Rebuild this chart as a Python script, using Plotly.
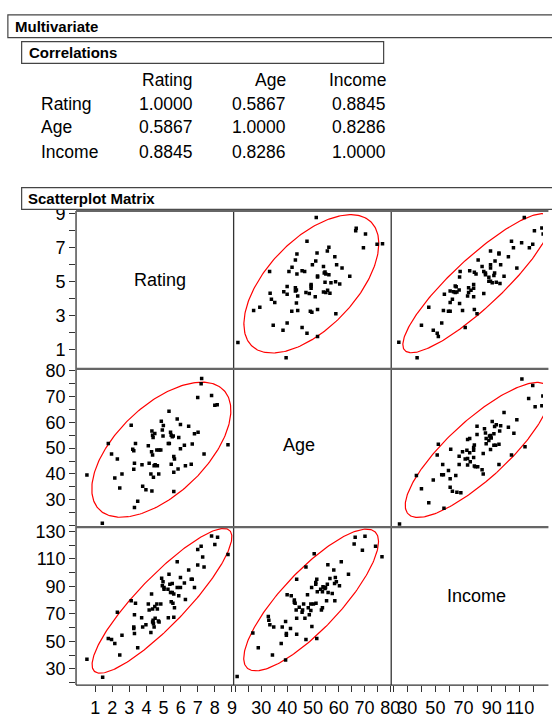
import numpy as np
import plotly.graph_objects as go

# ---- data: pairwise observations ----
# Rating vs Age
ra_rating = [0.52, 1.42, 1.77, 1.96, 2.30, 2.15, 2.44, 2.57, 3.11, 3.20, 3.26, 3.36, 3.30, 3.26,
             3.30, 3.49, 3.74, 3.78, 3.97, 4.11, 4.16, 4.26, 4.32, 4.36, 4.39, 4.49, 4.45, 4.51,
             4.30, 4.36, 4.41, 4.32, 4.61, 4.64, 4.74, 4.84, 4.72, 4.87, 4.99, 4.93, 4.97, 5.28,
             5.32, 5.34, 5.41, 5.45, 5.51, 5.57, 5.45, 5.60, 5.64, 5.60, 5.60, 5.80, 5.89, 5.85,
             5.99, 5.99, 6.22, 6.28, 6.47, 6.62, 6.68, 6.81, 7.00, 7.02, 7.23, 7.20, 7.37, 7.81,
             8.00, 8.14, 8.77]
ra_age = [39.6, 20.9, 51.8, 47.7, 45.8, 38.4, 34.6, 40.0, 58.9, 49.6, 49.0, 51.8, 44.1, 41.8,
          27.0, 29.4, 43.6, 35.2, 33.9, 50.9, 44.1, 40.0, 56.6, 55.0, 54.1, 55.7, 43.2, 43.6,
          48.6, 47.3, 38.7, 33.4, 49.3, 43.2, 49.3, 49.3, 40.0, 60.4, 58.8, 57.0, 54.7, 51.8,
          64.3, 51.8, 56.2, 55.0, 54.4, 54.7, 43.8, 46.8, 45.8, 40.7, 33.2, 61.3, 54.1, 41.9,
          59.2, 49.8, 51.1, 43.2, 58.5, 43.8, 51.6, 55.6, 69.6, 56.2, 77.0, 74.9, 47.7, 70.4,
          66.6, 66.8, 51.3]

# Rating vs Income
ri_rating = [0.52, 1.44, 1.77, 1.96, 2.15, 2.30, 2.44, 2.57, 3.11, 3.26, 3.26, 3.30, 3.30, 3.36,
             3.49, 3.72, 3.78, 3.97, 4.11, 4.16, 4.26, 4.30, 4.36, 4.36, 4.39, 4.41, 4.45, 4.49,
             4.51, 4.61, 4.64, 4.70, 4.74, 4.84, 4.89, 4.93, 4.97, 5.03, 5.03, 5.26, 5.28, 5.32,
             5.37, 5.41, 5.45, 5.51, 5.51, 5.55, 5.60, 5.60, 5.64, 5.80, 5.80, 5.89, 5.99, 5.99,
             6.22, 6.28, 6.47, 6.62, 6.68, 6.81, 7.00, 7.00, 7.20, 7.29, 7.37, 7.81, 8.00, 8.16,
             8.77]
ri_income = [37.0, 24.0, 52.1, 51.3, 48.5, 71.2, 40.1, 54.5, 79.6, 60.5, 59.3, 69.3, 55.7, 77.7,
             45.3, 67.2, 60.5, 62.1, 77.2, 72.9, 56.4, 84.4, 73.6, 64.1, 65.3, 62.9, 60.5, 75.3,
             66.9, 77.2, 73.6, 64.8, 64.1, 77.2, 95.9, 90.4, 93.3, 89.2, 88.0, 88.0, 67.2, 98.8,
             91.6, 85.6, 78.9, 92.1, 85.6, 77.7, 84.4, 67.6, 74.4, 107.9, 89.2, 83.2, 96.4, 89.2,
             92.4, 80.4, 101.9, 95.2, 95.2, 89.2, 116.8, 105.5, 119.2, 111.3, 104.1, 126.6, 120.4,
             125.7, 113.2]

# Age vs Income
ai_age = [20.6, 26.7, 28.8, 34.3, 32.7, 32.9, 33.3, 34.8, 38.1, 37.7, 39.4, 39.7, 39.7, 39.4,
          40.0, 41.6, 41.3, 42.8, 42.8, 43.1, 43.5, 43.7, 43.7, 43.7, 44.7, 45.8, 46.0, 46.4,
          46.9, 47.3, 47.3, 47.9, 48.2, 48.6, 49.2, 49.2, 49.5, 49.6, 50.2, 50.5, 51.1, 51.1,
          51.2, 51.5, 51.5, 51.7, 53.0, 53.3, 53.7, 53.7, 53.9, 54.3, 54.7, 54.9, 55.3, 55.6,
          55.8, 55.9, 56.6, 57.5, 58.1, 58.4, 58.7, 59.1, 58.5, 60.3, 61.0, 63.8, 66.0, 66.4,
          69.2, 70.2, 74.3, 76.8]
ai_income = [24.5, 56.1, 45.3, 40.1, 68.1, 65.3, 62.1, 60.5, 60.5, 48.5, 64.5, 54.5, 55.7, 36.5,
             84.0, 83.2, 59.3, 80.1, 78.4, 77.7, 72.9, 66.9, 55.2, 95.2, 74.8, 71.2, 72.9, 77.2,
             66.9, 104.1, 51.3, 84.0, 74.4, 69.3, 77.2, 72.4, 89.2, 60.9, 77.2, 113.7, 92.8, 91.6,
             77.7, 95.2, 52.1, 86.1, 88.0, 72.9, 74.4, 86.1, 89.7, 89.2, 88.5, 89.2, 79.6, 91.6,
             105.8, 85.6, 95.7, 84.9, 101.9, 92.1, 96.4, 93.3, 79.6, 90.4, 107.9, 98.8, 120.9,
             125.7, 116.3, 126.4, 119.2, 111.5]

variables = ["Rating", "Age", "Income"]
corr = [[1.0000, 0.5867, 0.8845],
        [0.5867, 1.0000, 0.8286],
        [0.8845, 0.8286, 1.0000]]

# ---- tick definitions ----
rating_ticks = [1, 2, 3, 4, 5, 6, 7, 8, 9]
rating_xlabels = ["1", "2", "3", "4", "5", "6", "7", "8", "9"]
rating_ylabels = ["1", "", "3", "", "5", "", "7", "", "9"]
age_ticks = [20, 25, 30, 35, 40, 45, 50, 55, 60, 65, 70, 75, 80]
age_labels = ["", "", "30", "", "40", "", "50", "", "60", "", "70", "", "80"]
income_xticks = [20, 30, 40, 50, 60, 70, 80, 90, 100, 110, 120]
income_xlabels = ["", "30", "", "50", "", "70", "", "90", "", "110", ""]
income_yticks = [20, 30, 40, 50, 60, 70, 80, 90, 100, 110, 120, 130]
income_ylabels = ["", "30", "", "50", "", "70", "", "90", "", "110", "", "130"]

W, H = 552, 718
FONT = "Liberation Sans, Arial, sans-serif"


def fx(p):
    return p / W


def fy(p):
    return 1 - p / H


def density_ellipse(xs, ys, level=0.95, n=240):
    x = np.asarray(xs, float)
    y = np.asarray(ys, float)
    vals, vecs = np.linalg.eigh(np.cov(x, y))
    r = np.sqrt(-2 * np.log(1 - level))
    t = np.linspace(0, 2 * np.pi, n)
    circ = np.vstack([np.cos(t), np.sin(t)])
    pts = vecs @ (np.sqrt(vals)[:, None] * circ) * r
    return x.mean() + pts[0], y.mean() + pts[1]


cols = [77.3, 237.5, 397.7, 552.0]
rows = [205.5, 365.5, 525.7, 685.7]

fig = go.Figure()

panels = [
    ("x2", "y", ra_age, ra_rating),
    ("x3", "y", ri_income, ri_rating),
    ("x", "y2", ra_rating, ra_age),
    ("x3", "y2", ai_income, ai_age),
    ("x", "y3", ri_rating, ri_income),
    ("x2", "y3", ai_age, ai_income),
]
for xa, ya, xs, ys in panels:
    ex, ey = density_ellipse(xs, ys)
    fig.add_trace(go.Scatter(x=ex, y=ey, xaxis=xa, yaxis=ya, mode="lines",
                             line=dict(color="#ff0000", width=1.2), hoverinfo="skip"))
    fig.add_trace(go.Scatter(x=xs, y=ys, xaxis=xa, yaxis=ya, mode="markers",
                             marker=dict(symbol="square", size=3.5, color="black",
                                         line=dict(width=0))))

tickfont = dict(family=FONT, size=18, color="black")
axis_common = dict(showgrid=False, zeroline=False, showline=False, ticks="outside",
                   ticklen=6, tickwidth=1, tickcolor="#333", tickfont=tickfont,
                   tickmode="array", fixedrange=True)

fig.update_layout(
    width=W, height=H, margin=dict(l=0, r=0, t=0, b=0),
    paper_bgcolor="white", plot_bgcolor="white", showlegend=False,
    xaxis=dict(domain=[fx(cols[0]), fx(cols[1])], range=[-0.117, 9.10], anchor="y3",
               tickvals=rating_ticks, ticktext=rating_xlabels, **axis_common),
    xaxis2=dict(domain=[fx(cols[1]), fx(cols[2])], range=[19.24, 80.38], anchor="y3",
                tickvals=age_ticks, ticktext=age_labels, **axis_common),
    xaxis3=dict(domain=[fx(cols[2]), fx(cols[3])], range=[18.6, 126.5], anchor="y3",
                tickvals=income_xticks, ticktext=income_xlabels, **axis_common),
    yaxis=dict(domain=[fy(rows[1]), fy(rows[0])], range=[-0.13, 9.16], anchor="x",
               tickvals=rating_ticks, ticktext=rating_ylabels, **axis_common),
    yaxis2=dict(domain=[fy(rows[2]), fy(rows[1])], range=[19.40, 80.69], anchor="x",
                tickvals=age_ticks, ticktext=age_labels, **axis_common),
    yaxis3=dict(domain=[fy(rows[3]), fy(rows[2])], range=[18.2, 133.1], anchor="x",
                tickvals=income_yticks, ticktext=income_ylabels, **axis_common),
)

shapes = []
# section header boxes (white-filled, drawn over the axis labels)
for x0, y0, x1, y1 in [(8, 7, 620, 30), (22, 34, 390, 56), (22, 182, 620, 204)]:
    shapes.append(dict(type="rect", xref="paper", yref="paper", layer="above",
                       x0=fx(x0), x1=fx(x1), y0=fy(y1), y1=fy(y0),
                       line=dict(color="#444", width=1.2), fillcolor="white"))
# matrix frame
for c in cols[:3]:
    shapes.append(dict(type="line", xref="paper", yref="paper",
                       x0=fx(c), x1=fx(c), y0=fy(rows[3]), y1=fy(rows[0]),
                       line=dict(color="#333", width=1.3)))
for r in rows[:3]:
    shapes.append(dict(type="line", xref="paper", yref="paper",
                       x0=fx(cols[0]), x1=1.01, y0=fy(r), y1=fy(r),
                       line=dict(color="#666", width=2.2)))
shapes.append(dict(type="line", xref="paper", yref="paper",
                   x0=fx(cols[0]), x1=1.01, y0=fy(rows[3]), y1=fy(rows[3]),
                   line=dict(color="#333", width=1.2)))
fig.update_layout(shapes=shapes)

ann = []


def label(text, x, y, size=17, bold=False, anchor="left"):
    t = f"<b>{text}</b>" if bold else text
    ann.append(dict(text=t, x=fx(x), y=fy(y), xref="paper", yref="paper",
                    xanchor=anchor, yanchor="middle", showarrow=False,
                    font=dict(family=FONT, size=size, color="black")))


label("Multivariate", 13, 18.5, size=15, bold=True)
label("Correlations", 27, 45, size=15, bold=True)
label("Scatterplot Matrix", 26, 193, size=15, bold=True)

col_right = [198, 293, 394]
row_y = [97, 121, 146]
for j, name in enumerate(variables):
    label(name, col_right[j], 73, size=17.5, anchor="right")
for i, name in enumerate(variables):
    label(name, 40, row_y[i], size=17.5)
    for j in range(3):
        label(f"{corr[i][j]:.4f}", col_right[j], row_y[i], size=17.5, anchor="right")

# variable names on the diagonal
label("Rating", 163, 275, size=18, anchor="center")
label("Age", 304, 443, size=18, anchor="center")
label("Income", 484, 595, size=18, anchor="center")

fig.update_layout(annotations=ann)
fig.write_html("out.html", post_script="document.body.style.margin='0';")
